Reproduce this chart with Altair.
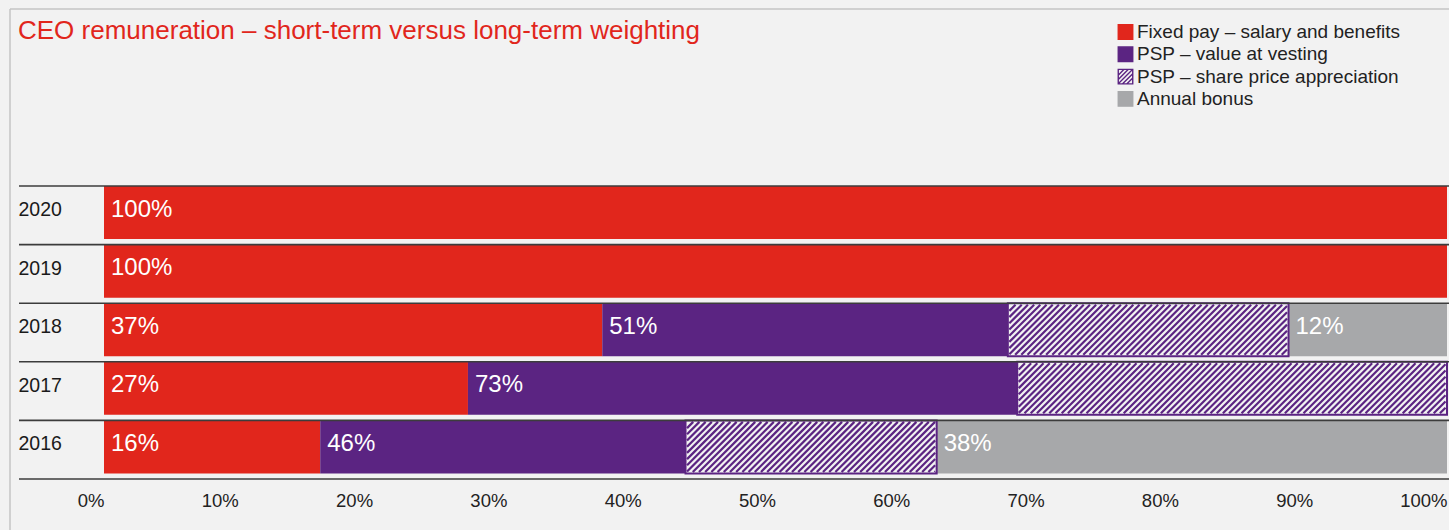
import altair as alt
import pandas as pd

# ---------------- data ----------------
years = ["2020", "2019", "2018", "2017", "2016"]
fixed_pay = [100, 100, 37.1, 27.1, 16.1]
psp_vesting = [0, 0, 30.2, 40.9, 27.2]
psp_share = [0, 0, 20.9, 32.0, 18.7]
annual_bonus = [0, 0, 11.8, 0, 38.0]
fixed_labels = ["100%", "100%", "37%", "27%", "16%"]
psp_labels = ["", "", "51%", "73%", "46%"]
bonus_labels = ["", "", "12%", "", "38%"]

categories = [
    "Fixed pay – salary and benefits",
    "PSP – value at vesting",
    "PSP – share price appreciation",
    "Annual bonus",
]
x_ticks = [0, 10, 20, 30, 40, 50, 60, 70, 80, 90, 100]
title_text = "CEO remuneration – short-term versus long-term weighting"

# ---------------- style ----------------
RED = "#e1261c"
PURPLE = "#5b2482"
GREY = "#a7a8aa"
BG = "#f2f2f2"
FONT = "Liberation Sans"
fills = [RED, PURPLE, BG, GREY]
strokes = [RED, PURPLE, PURPLE, GREY]
hatch_path = ("M-1,-1H1V1H-1Z "
              "M-1,0.4L0.4,-1 M-1,1L1,-1 M-0.4,1L1,-0.4 "
              "M-1,-0.2L-0.2,-1 M0.2,1L1,0.2")
shapes = ["square", "square", hatch_path, "square"]

W, H = 1343, 293
N = len(years)
ROW_PX = H / N
PAD_IN = 0.095
BAR_PX = ROW_PX * (1 - PAD_IN)
PX_PER_PCT = W / 100.0

# ---------------- tables ----------------
seg_rows, lab_rows, stripe_rows = [], [], []
for i, y in enumerate(years):
    vals = [fixed_pay[i], psp_vesting[i], psp_share[i], annual_bonus[i]]
    start = 0.0
    starts = []
    for c, v in enumerate(vals):
        starts.append(start)
        if v > 0:
            seg_rows.append(dict(year=y, row=i, cat=categories[c], start=start,
                                 end=start + v, fillc=fills[c]))
            if c == 2:
                # diagonal hatch lines (45 degrees in pixel space), clipped to the segment
                x0, x1 = start * PX_PER_PCT + 1.5, (start + v) * PX_PER_PCT - 1.5
                top = i * ROW_PX + 1.5
                hh = BAR_PX - 3.0
                bottom = top + hh
                step = 6.2
                c0 = x0 - hh
                while c0 < x1:
                    ua = max(x0, c0)
                    ub = min(x1, c0 + hh)
                    if ub > ua:
                        va = bottom - (ua - c0)
                        vb = bottom - (ub - c0)
                        stripe_rows.append(dict(xa=ua / PX_PER_PCT, xb=ub / PX_PER_PCT,
                                                ya=va / ROW_PX, yb=vb / ROW_PX))
                    c0 += step
        start += v
    for lab, s in ((fixed_labels[i], starts[0]), (psp_labels[i], starts[1]), (bonus_labels[i], starts[3])):
        if lab:
            lab_rows.append(dict(year=y, row_mid=i + (1 - PAD_IN) / 2, x=s, label=lab))

seg = pd.DataFrame(seg_rows)
labs = pd.DataFrame(lab_rows)
stripes = pd.DataFrame(stripe_rows)
seps = pd.DataFrame({"row": list(range(N + 1))})
legend_df = pd.DataFrame({"cat": categories})
one = pd.DataFrame({"a": [0]})

xscale = alt.Scale(domain=[0, 100], nice=False, zero=False)
yband = alt.Scale(domain=years, paddingInner=PAD_IN, paddingOuter=PAD_IN / 2, align=0)
yq = alt.Scale(domain=[0, N], reverse=True, nice=False, zero=False)

x_axis = alt.Axis(values=x_ticks, labelExpr="datum.value + '%'", labelAlign="right",
                  labelBaseline="alphabetic", labelPadding=27, tickSize=0, ticks=False,
                  domain=False, grid=False, title=None, labelFontSize=18.5,
                  labelFlush=False, labelColor="#222222", labelFont=FONT)
y_axis = alt.Axis(labelAlign="left", labelPadding=86, labelFontSize=19.5,
                  labelColor="#1a1a1a", labelFont=FONT, ticks=False, tickSize=0,
                  domain=False, grid=False, title=None, labelBaseline="alphabetic",
                  labelOffset=3.5)

bars = alt.Chart(seg).mark_bar().encode(
    x=alt.X("start:Q", scale=xscale, axis=x_axis),
    x2="end:Q",
    y=alt.Y("year:N", scale=yband, axis=y_axis, sort=years),
    fill=alt.Fill("fillc:N", scale=None),
)

hatch_lines = alt.Chart(stripes).mark_rule(color=PURPLE, strokeWidth=2.2).encode(
    x=alt.X("xa:Q", scale=xscale, axis=None),
    x2="xb:Q",
    y=alt.Y("ya:Q", scale=yq, axis=None),
    y2="yb:Q",
)

hatch_border = alt.Chart(seg).transform_filter(
    alt.datum.cat == categories[2]
).mark_bar(fillOpacity=0, stroke=PURPLE, strokeWidth=2).encode(
    x=alt.X("start:Q", scale=xscale, axis=None),
    x2="end:Q",
    y=alt.Y("year:N", scale=yband, axis=None, sort=years),
)

texts = alt.Chart(labs).mark_text(align="left", baseline="alphabetic", dx=7, dy=4,
                                  fontSize=24, color="white", font=FONT).encode(
    x=alt.X("x:Q", scale=xscale, axis=None),
    y=alt.Y("row_mid:Q", scale=yq, axis=None),
    text="label:N",
)

separators = alt.Chart(seps).mark_rule(color="#3c3c3c", strokeWidth=1.6).encode(
    y=alt.Y("row:Q", scale=yq, axis=None),
    x=alt.value(-85),
    x2=alt.value(W + 10),
)

frame_top = alt.Chart(one).mark_rule(color="#c4c4c4", strokeWidth=1.5).encode(
    x=alt.value(-94), x2=alt.value(W + 10), y=alt.value(-177))
frame_left = alt.Chart(one).mark_rule(color="#c4c4c4", strokeWidth=1.5).encode(
    x=alt.value(-94), y=alt.value(-177), y2=alt.value(H + 60))

leg = alt.Legend(orient="none", legendX=1012, legendY=-163.5, title=None,
                 symbolSize=210, symbolStrokeWidth=1.4, labelFontSize=19,
                 labelFont=FONT, labelColor="#222222", labelOffset=2,
                 rowPadding=1.3, padding=0, labelLimit=400, symbolOpacity=1)
legend_layer = alt.Chart(legend_df).transform_filter("false").mark_point(
    filled=False, opacity=1).encode(
    x=alt.X("cat:N", axis=None),
    fill=alt.Fill("cat:N", scale=alt.Scale(domain=categories, range=fills), legend=leg),
    stroke=alt.Stroke("cat:N", scale=alt.Scale(domain=categories, range=strokes), legend=leg),
    shape=alt.Shape("cat:N", scale=alt.Scale(domain=categories, range=shapes), legend=leg),
)

chart = alt.layer(
    frame_top, frame_left, bars, hatch_lines, hatch_border, texts, separators, legend_layer
).resolve_scale(y="independent", x="independent").properties(
    width=W, height=H,
    padding={"left": 104, "top": 186, "right": 2, "bottom": 51},
    autosize=alt.AutoSizeParams(type="none"),
    background=BG,
    title=alt.TitleParams(title_text, anchor="start", frame="group", color=RED,
                          fontSize=26, font=FONT, fontWeight="normal", dx=-86,
                          offset=0, dy=57, baseline="alphabetic"),
).configure_view(stroke=None)

chart.save("out.html", embed_options={"renderer": "svg", "actions": False})
